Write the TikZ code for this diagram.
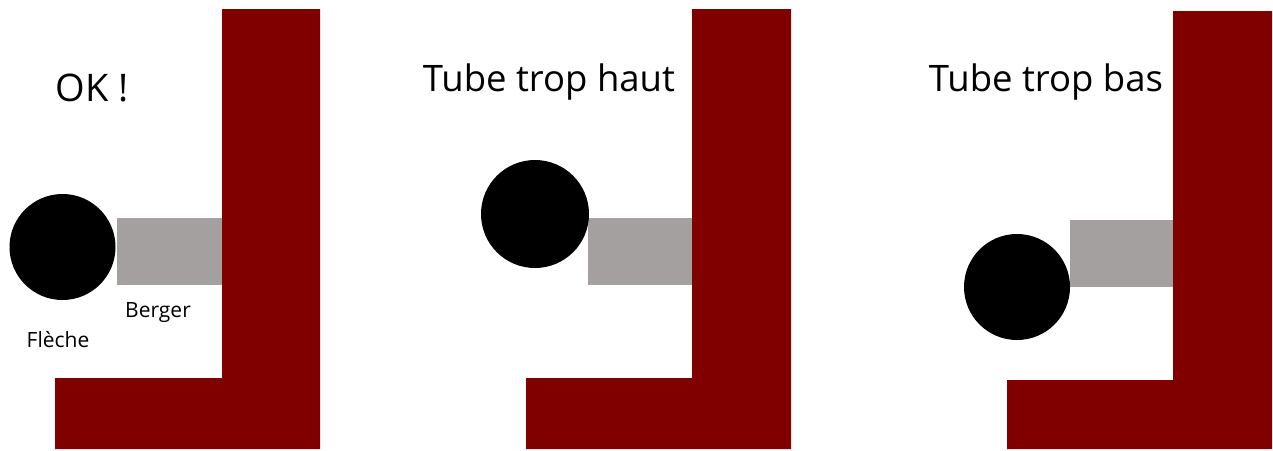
\documentclass[tikz,border=0pt]{standalone}
\usepackage{fontspec}
\setmainfont{Open Sans}
\definecolor{wallred}{RGB}{128,0,0}
\definecolor{bergergray}{RGB}{164,160,159}
\begin{document}
\begin{tikzpicture}[x=1pt,y=-1pt,
  wall/.style={fill=wallred},
  berger/.style={fill=bergergray},
  fleche/.style={fill=black},
  title/.style={font=\fontsize{36.5}{40}\selectfont, inner sep=0pt},
  small/.style={font=\fontsize{21}{24}\selectfont, inner sep=0pt}]
\useasboundingbox[fill=white] (0,0) rectangle (1273,450);
% Panel 1: OK
\fill[wall] (222,9) -- (320,9) -- (320,449) -- (55,449) -- (55,378) -- (222,378) -- cycle;
\fill[berger] (117,218) rectangle (222,285);
\fill[fleche] (62.5,247) circle (53);
\node[font=\fontsize{38}{42}\selectfont, inner sep=0pt] (ok) at (92,88) {OK !};
\node[small] (lb) at (158,313) {Berger};
\node[small] (lf) at (58,340) {Flèche};
% Panel 2: Tube trop haut
\fill[wall] (692,9) -- (791,9) -- (791,449) -- (526,449) -- (526,378) -- (692,378) -- cycle;
\fill[berger] (588,218) rectangle (692,285);
\fill[fleche] (535,214) circle (54);
\node[title] (haut) at (549,82) {Tube trop haut};
% Panel 3: Tube trop bas
\fill[wall] (1173,11) -- (1272,11) -- (1272,449) -- (1007,449) -- (1007,380) -- (1173,380) -- cycle;
\fill[berger] (1070,220) rectangle (1173,287);
\fill[fleche] (1017,287) circle (53);
\node[title] (bas) at (1046,82) {Tube trop bas};
\end{tikzpicture}
\end{document}
